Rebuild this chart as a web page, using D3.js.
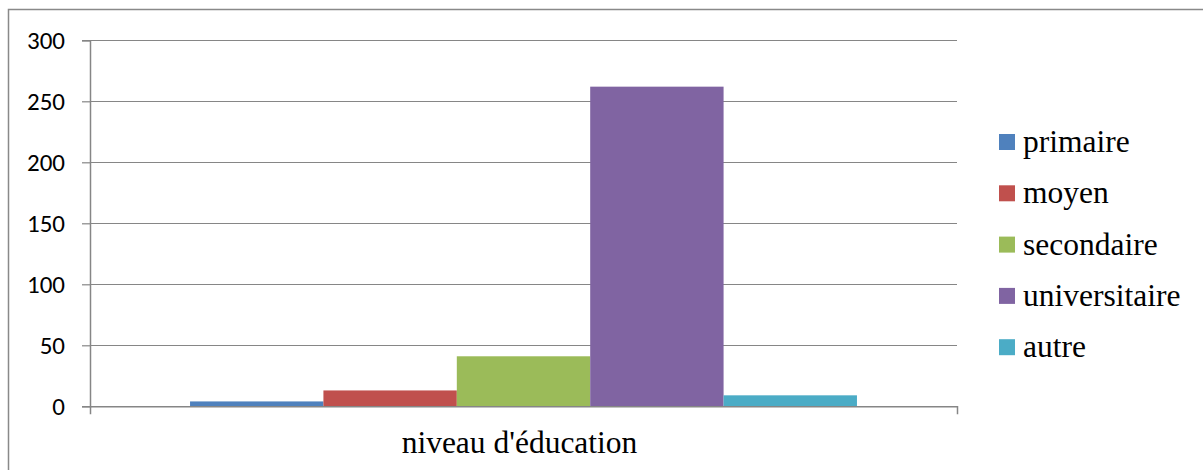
<!DOCTYPE html>
<html><head><meta charset="utf-8">
<script src="https://cdn.jsdelivr.net/npm/d3@7"></script>
</head><body style="margin:0">
<svg id="chart" width="1203" height="470" style="font-family:'Liberation Serif'"></svg>
<script>
const category = "niveau d'éducation";
const seriesNames = ["primaire", "moyen", "secondaire", "universitaire", "autre"];
const seriesValues = [4, 13, 41, 262, 9];
const seriesColors = ["#4f81bd", "#c0504d", "#9bbb59", "#8064a2", "#4bacc6"];
const yTicks = [0, 50, 100, 150, 200, 250, 300];

const svg = d3.select("#chart");
const W = 1203, H = 470;
const pLeft = 90, pRight = 957, pTop = 40.3, pBottom = 406.3;

svg.append("rect").attr("x", 8.5).attr("y", 9.5).attr("width", W + 10).attr("height", H + 10)
  .attr("fill", "#fff").attr("stroke", "#898989").attr("stroke-width", 1.5);

const y = d3.scaleLinear().domain([0, 300]).range([pBottom, pTop]);
const x0 = d3.scaleBand().domain([category]).range([pLeft, pRight]).paddingInner(0).paddingOuter(0);
const bw = x0.bandwidth();
const groupW = bw * 5 / 6.5;
const x1 = d3.scaleBand().domain(seriesNames)
  .range([x0(category) + (bw - groupW) / 2, x0(category) + (bw + groupW) / 2]);

svg.append("g").selectAll("line").data(yTicks.filter(d => d > 0)).join("line")
  .attr("x1", pLeft).attr("x2", pRight)
  .attr("y1", d => Math.round(y(d)) + 0.5).attr("y2", d => Math.round(y(d)) + 0.5)
  .attr("stroke", "#868686").attr("stroke-width", 1.2);

svg.append("g").selectAll("rect").data(seriesNames).join("rect")
  .attr("x", (d) => x1(d)).attr("width", x1.bandwidth())
  .attr("y", (d, i) => y(seriesValues[i])).attr("height", (d, i) => pBottom - y(seriesValues[i]))
  .attr("fill", (d, i) => seriesColors[i]);

const yAxis = d3.axisLeft(y).tickValues(yTicks).tickSize(8).tickPadding(17).tickFormat(d3.format("d"));
const gy = svg.append("g").attr("transform", `translate(${pLeft},0)`).call(yAxis);
gy.attr("font-family", null).attr("font-size", null).style("font-family", "Carlito");
gy.select(".domain").attr("stroke", "#868686").attr("stroke-width", 1.5);
gy.selectAll(".tick line").attr("stroke", "#868686").attr("stroke-width", 1.2);
gy.selectAll(".tick text").style("font-size", "25px").attr("fill", "#000");

const xAxis = d3.axisBottom(x0).tickValues([]).tickSizeOuter(8);
const gx = svg.append("g").attr("transform", `translate(0,${pBottom})`).call(xAxis);
gx.attr("font-family", null).attr("font-size", null);
gx.select(".domain").attr("stroke", "#868686").attr("stroke-width", 1.5);
svg.append("text").attr("x", x0(category) + bw / 2 - 4).attr("y", 453)
  .attr("text-anchor", "middle").style("font-size", "31.5px")
  .attr("fill", "#000").text(category);

const lg = svg.append("g").selectAll("g").data(seriesNames).join("g")
  .attr("transform", (d, i) => `translate(999,${142 + i * 51.3})`);
lg.append("rect").attr("x", 0).attr("y", -8).attr("width", 16).attr("height", 16)
  .attr("fill", (d, i) => seriesColors[i]);
lg.append("text").attr("x", 24).attr("y", 10).style("font-size", "31.5px")
  .attr("fill", "#000").text(d => d);
</script>
</body></html>
